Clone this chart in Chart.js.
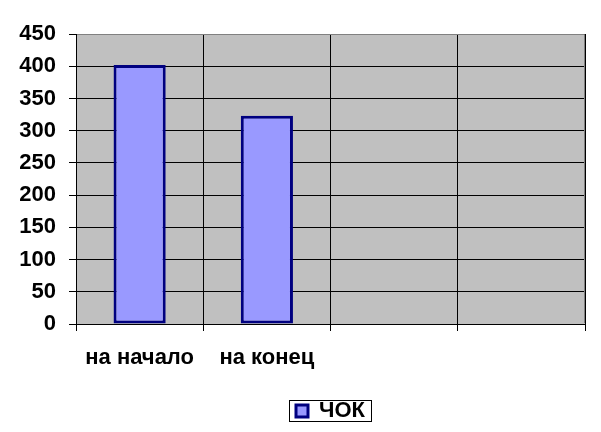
<!DOCTYPE html>
<html>
<head>
<meta charset="utf-8">
<script src="https://cdn.jsdelivr.net/npm/chart.js@4"></script>
<style>
  html, body { margin: 0; padding: 0; background: #fff; }
  #wrap { width: 601px; height: 432px; }
</style>
</head>
<body>
<div id="wrap"><canvas id="bar-chart" width="601" height="432"></canvas></div>
<script>
// data
var categories = ["на начало", "на конец", "", ""];
var seriesName = "ЧОК";
var values = [402, 323, null, null];
var yTicks = [0, 50, 100, 150, 200, 250, 300, 350, 400, 450];

var FONT = "'Liberation Sans', Arial, sans-serif";
var LEGEND_PAD = 6;

// gray plot background, gray frame on top/right, legend centred under plot with a frame
var plotBg = {
  id: "plotBg",
  afterLayout: function (chart) {
    var lg = chart.legend, a = chart.chartArea;
    if (!lg || !lg.legendHitBoxes) return;
    // undo the first adjustment of top, then recentre under the plot
    lg.legendHitBoxes.forEach(function (hb) { hb.top -= lg.top + LEGEND_PAD; });
    lg.left = a.left;
    lg.right = a.right;
    lg.width = lg.right - lg.left;
    lg.adjustHitBoxes();
  },
  beforeDraw: function (chart) {
    var a = chart.chartArea, ctx = chart.ctx;
    ctx.save();
    ctx.fillStyle = "#c0c0c0";
    ctx.fillRect(a.left, a.top, a.right - a.left, a.bottom - a.top);
    ctx.restore();
  },
  afterDraw: function (chart) {
    var a = chart.chartArea, ctx = chart.ctx;
    ctx.save();
    ctx.strokeStyle = "#808080";
    ctx.lineWidth = 1;
    ctx.beginPath();
    ctx.moveTo(a.left + 1, a.top + 0.5);
    ctx.lineTo(a.right - 0.5, a.top + 0.5);
    ctx.lineTo(a.right - 0.5, a.bottom - 1);
    ctx.stroke();
    // legend frame
    var hb = chart.legend.legendHitBoxes[0];
    if (hb) {
      var cy = Math.round(hb.top + hb.height / 2);
      ctx.strokeStyle = "#000";
      ctx.strokeRect(Math.round(hb.left) - 6.5, cy - 10.5, Math.round(hb.width) + 13, 21);
    }
    ctx.restore();
  }
};

var ctx = document.getElementById("bar-chart").getContext("2d");
var chart = new Chart(ctx, {
  type: "bar",
  data: {
    labels: categories,
    datasets: [
      {
        label: seriesName,
        data: values,
        backgroundColor: "#9999ff",
        borderColor: "#000080",
        borderWidth: 3,
        borderSkipped: false,
        barPercentage: 0.41,
        categoryPercentage: 1.0
      }
    ]
  },
  options: {
    responsive: false,
    animation: false,
    layout: { padding: { top: 34, right: 16, left: 0, bottom: 0 } },
    plugins: {
      tooltip: { enabled: false },
      legend: {
        position: "bottom",
        labels: {
          color: "#000",
          font: { family: FONT, size: 22, weight: "bold" },
          boxWidth: 12,
          boxHeight: 12,
          padding: LEGEND_PAD
        }
      }
    },
    scales: {
      x: {
        afterFit: function (s) { s.height = 70; },
        grid: {
          color: "#000",
          lineWidth: 1,
          tickLength: 7,
          offset: true
        },
        border: { color: "#000", width: 1 },
        ticks: {
          color: "#000",
          padding: 14,
          maxRotation: 0,
          autoSkip: false,
          font: { family: FONT, size: 22, weight: "bold" }
        }
      },
      y: {
        min: 0,
        max: 450,
        afterFit: function (s) { s.width = 76; },
        afterBuildTicks: function (s) {
          s.ticks = yTicks.map(function (v) { return { value: v }; });
        },
        grid: { color: "#000", lineWidth: 1, tickLength: 7 },
        border: { color: "#000", width: 1 },
        ticks: {
          color: "#000",
          padding: 13,
          font: { family: FONT, size: 22, weight: "bold" }
        }
      }
    }
  },
  plugins: [plotBg]
});
</script>
</body>
</html>
